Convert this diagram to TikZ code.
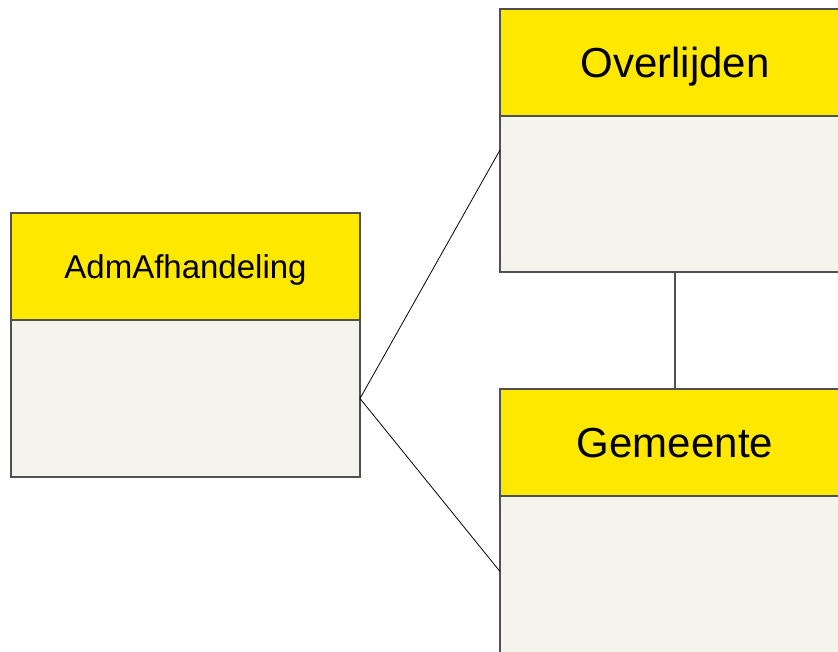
\documentclass[tikz,border=0pt]{standalone}
\usepackage{fontspec}
\setmainfont{Liberation Sans}
\usetikzlibrary{positioning}

\definecolor{headyellow}{HTML}{FFE800}
\definecolor{bodygrey}{HTML}{F4F3EC}
\definecolor{edgegrey}{HTML}{505050}

\tikzset{
	classhead/.style={draw=edgegrey, line width=1.2pt, fill=headyellow, inner sep=0pt, outer sep=0pt, text depth=0pt, minimum width=350pt, minimum height=107pt},
	classbody/.style={draw=edgegrey, line width=1.2pt, fill=bodygrey, inner sep=0pt, outer sep=0pt, minimum width=350pt, minimum height=157pt},
	assoc/.style={draw=black, line width=0.8pt}
}

\begin{document}
\begin{tikzpicture}[x=1pt, y=-1pt]

\useasboundingbox (0,0) rectangle (838,651);
\clip (0,0) rectangle (838,651);

% Class AdmAfhandeling
\node[classhead, minimum width=349pt] (adm) at (185.5,266.5) {\fontsize{33}{40}\selectfont AdmAfhandeling};
\node[classbody, minimum width=349pt, below=0pt of adm] (admbody) {};

% Class Overlijden
\node[classhead] (over) at (675,62.5) {\fontsize{42}{50}\selectfont Overlijden};
\node[classbody, minimum height=156pt, below=0pt of over] (overbody) {};

% Class Gemeente
\node[classhead] (gem) at (675,442.5) {\fontsize{42}{50}\selectfont Gemeente};
\node[classbody, below=0pt of gem] (gembody) {};

% Lines between the classes
\draw[assoc] (admbody.east) -- ([yshift=44pt]overbody.west);
\draw[assoc] (admbody.east) -- ([yshift=3pt]gembody.west);
\draw[draw=edgegrey, line width=1.2pt] (overbody.south) -- (gem.north);

\end{tikzpicture}
\end{document}
